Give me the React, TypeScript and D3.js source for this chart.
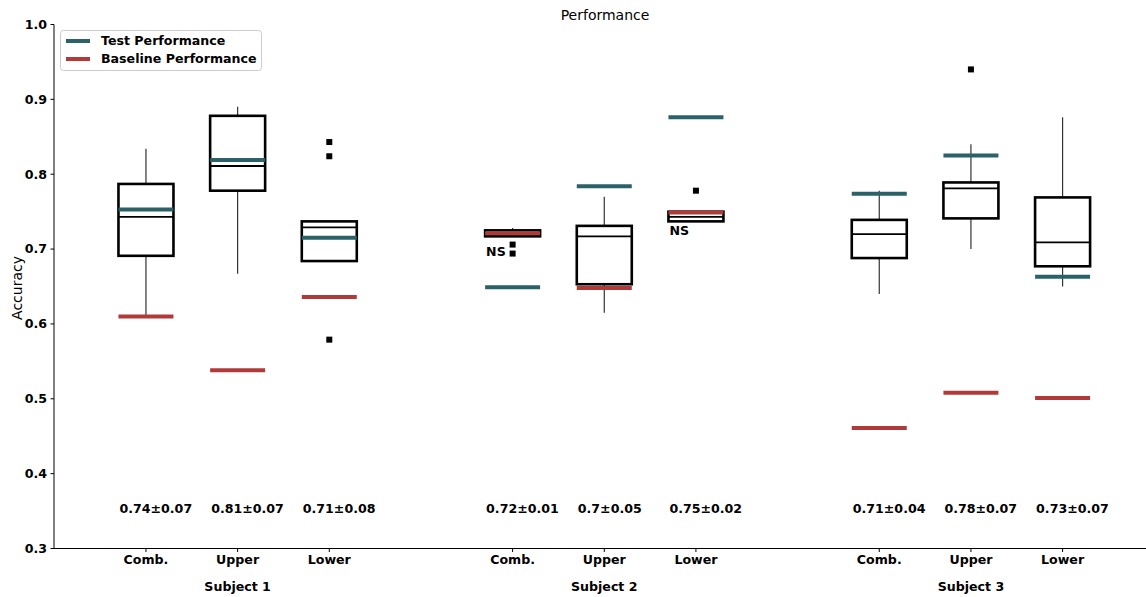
import React from "react";
import * as d3 from "d3";

const categories = ["Comb.", "Upper", "Lower"];
const subjects = ["Subject 1", "Subject 2", "Subject 3"];
const positions = [1, 2, 3, 5, 6, 7, 9, 10, 11];
const whiskerLow = [0.612, 0.667, 0.684, 0.717, 0.615, 0.737, 0.640, 0.700, 0.650];
const q1 = [0.691, 0.778, 0.684, 0.717, 0.653, 0.737, 0.688, 0.741, 0.677];
const median = [0.743, 0.811, 0.729, 0.720, 0.717, 0.743, 0.720, 0.781, 0.709];
const q3 = [0.787, 0.878, 0.737, 0.725, 0.731, 0.750, 0.739, 0.789, 0.769];
const whiskerHigh = [0.834, 0.890, 0.737, 0.728, 0.770, 0.750, 0.778, 0.840, 0.876];
const testPerf = [0.753, 0.819, 0.715, 0.649, 0.784, 0.876, 0.774, 0.825, 0.663];
const basePerf = [0.610, 0.538, 0.636, 0.721, 0.648, 0.749, 0.461, 0.508, 0.501];
const outliers = [[], [], [0.843, 0.824, 0.579], [0.706, 0.694], [], [0.778], [], [0.940], []];
const summaries = ["0.74±0.07", "0.81±0.07", "0.71±0.08", "0.72±0.01", "0.7±0.05", "0.75±0.02", "0.71±0.04", "0.78±0.07", "0.73±0.07"];
const nsLabels = [{ index: 3, value: 0.697 }, { index: 5, value: 0.725 }];
const yTicks = [0.3, 0.4, 0.5, 0.6, 0.7, 0.8, 0.9, 1.0];
const summaryLevel = 0.353;

const TEAL = "#2b6169";
const RED = "#b03a3a";
const FONT = "DejaVu Sans, sans-serif";
const FS = 12.6;

export default function App() {
  const W = 1146, H = 597;
  const x = d3.scaleLinear().domain([0, 11.91]).range([54.3, 1146]);
  const y = d3.scaleLinear().domain([0.3, 1.0]).range([548.5, 24.5]);
  const half = 0.3;

  return (
    <svg width={W} height={H} style={{ position: "absolute", left: 0, top: 0, background: "#fff" }} fontFamily={FONT}>
      <rect width={W} height={H} fill="#fff" />
      {positions.map((p, i) => {
        const x0 = x(p - half), x1 = x(p + half), xc = x(p);
        return (
          <g key={i}>
            <line x1={xc} x2={xc} y1={y(whiskerHigh[i])} y2={y(q3[i])} stroke="#333" strokeWidth={1.2} />
            <line x1={xc} x2={xc} y1={y(q1[i])} y2={y(whiskerLow[i])} stroke="#333" strokeWidth={1.2} />
            <rect x={x0} y={y(q3[i])} width={x1 - x0} height={Math.max(0, y(q1[i]) - y(q3[i]))} fill="none" stroke="#000" strokeWidth={2.6} />
            <line x1={x0} x2={x1} y1={y(median[i])} y2={y(median[i])} stroke="#000" strokeWidth={1.8} />
            {outliers[i].map((o, j) => (
              <rect key={j} x={xc - 3} y={y(o) - 3} width={6} height={6} fill="#000" />
            ))}
          </g>
        );
      })}
      {positions.map((p, i) => (
        <g key={"l" + i}>
          <line x1={x(p - half)} x2={x(p + half)} y1={y(testPerf[i])} y2={y(testPerf[i])} stroke={TEAL} strokeWidth={4} />
          <line x1={x(p - half)} x2={x(p + half)} y1={y(basePerf[i])} y2={y(basePerf[i])} stroke={RED} strokeWidth={4} />
          <text x={x(p - half) + 1} y={y(summaryLevel)} dy="0.35em" fontSize={FS} fontWeight="bold" fill="#000">{summaries[i]}</text>
        </g>
      ))}
      {nsLabels.map((n, k) => (
        <text key={"ns" + k} x={x(positions[n.index] - half) + 1} y={y(n.value)} dy="0.35em" fontSize={FS} fontWeight="bold">NS</text>
      ))}
      <line x1={54} x2={54} y1={y(1.0)} y2={y(0.3)} stroke="#000" strokeWidth={1} />
      <line x1={54} x2={W} y1={y(0.3)} y2={y(0.3)} stroke="#000" strokeWidth={1} />
      {yTicks.map((t) => (
        <g key={t}>
          <line x1={50.5} x2={54} y1={y(t)} y2={y(t)} stroke="#000" />
          <text x={47} y={y(t)} dy="0.35em" textAnchor="end" fontSize={FS} fontWeight="bold">{t.toFixed(1)}</text>
        </g>
      ))}
      {positions.map((p, i) => (
        <g key={"t" + i}>
          <line x1={x(p)} x2={x(p)} y1={548.5} y2={552} stroke="#000" />
          <text x={x(p)} y={560} dy="0.35em" textAnchor="middle" fontSize={FS} fontWeight="bold">{categories[i % 3]}</text>
        </g>
      ))}
      {subjects.map((s, k) => (
        <text key={s} x={x(positions[k * 3 + 1])} y={587} dy="0.35em" textAnchor="middle" fontSize={FS} fontWeight="bold">{s}</text>
      ))}
      <text transform={`translate(17,288) rotate(-90)`} textAnchor="middle" dy="0.35em" fontSize={14}>Accuracy</text>
      <text x={605} y={15} dy="0.35em" textAnchor="middle" fontSize={14}>Performance</text>
      <rect x={60.5} y={30.5} width={201} height={40} rx={3} fill="#fff" fillOpacity={0.8} stroke="#ccc" />
      <line x1={66} x2={90} y1={41} y2={41} stroke={TEAL} strokeWidth={4} />
      <line x1={66} x2={90} y1={59} y2={59} stroke={RED} strokeWidth={4} />
      <text x={101} y={41} dy="0.35em" fontSize={FS} fontWeight="bold">Test Performance</text>
      <text x={101} y={59} dy="0.35em" fontSize={FS} fontWeight="bold">Baseline Performance</text>
    </svg>
  );
}
